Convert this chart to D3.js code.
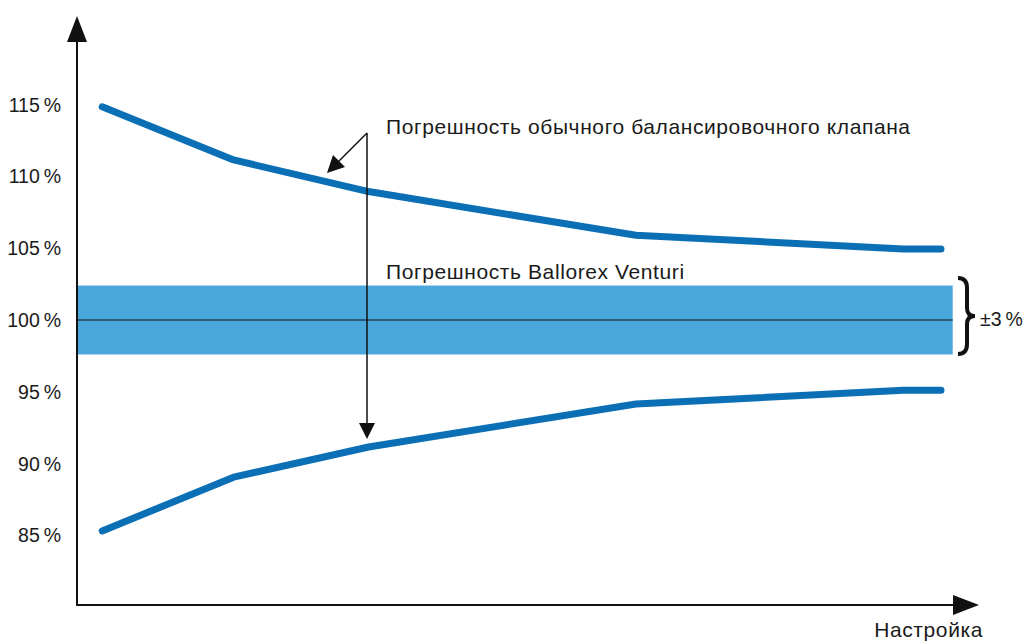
<!DOCTYPE html>
<html><head><meta charset="utf-8">
<script src="https://cdn.jsdelivr.net/npm/d3@7"></script>
<style>body{margin:0;background:#fff}svg{display:block}text{font-family:"Liberation Sans",Arial,sans-serif;fill:#1a1a1a}</style>
</head><body><svg id="c" width="1025" height="641"></svg>
<script>
// Data
const settings = [2.8, 17.4, 32.4, 62.1, 91.8, 96.0];
const upperError = [114.85, 111.15, 108.95, 105.9, 104.95, 104.95];
const lowerError = [85.3, 89.05, 91.15, 94.15, 95.1, 95.1];
const bandRange = [97.6, 102.4];
const yTicks = [85, 90, 95, 100, 105, 110, 115];
const yTickLabels = ["85\u2009%", "90\u2009%", "95\u2009%", "100\u2009%", "105\u2009%", "110\u2009%", "115\u2009%"];
const labelStandard = "Погрешность обычного балансировочного клапана";
const labelVenturi = "Погрешность Ballorex Venturi";
const labelBand = "±3\u2009%";
const xLabel = "Настройка";

const svg = d3.select("#c");
const x = d3.scaleLinear().domain([0, 100]).range([77, 977]);
const y = d3.scaleLinear().domain([100, 115]).range([320, 104.7]);
const blue = "#0b6fb6", band = "#4aa7dc";

// band
svg.append("rect").attr("x", x(0)).attr("width", x(97.3) - x(0))
  .attr("y", y(bandRange[1])).attr("height", y(bandRange[0]) - y(bandRange[1])).attr("fill", band);
svg.append("line").attr("x1", x(0)).attr("x2", x(97.3)).attr("y1", y(100)).attr("y2", y(100))
  .attr("stroke", "#111").attr("stroke-width", 1);

// lines
const line = d3.line().x(d => x(d[0])).y(d => y(d[1]));
[upperError, lowerError].forEach(s => {
  svg.append("path").attr("d", line(settings.map((v, i) => [v, s[i]])))
    .attr("fill", "none").attr("stroke", blue).attr("stroke-width", 7).attr("stroke-linecap", "round").attr("stroke-linejoin", "round");
});

// axes
const x0 = x(0), yb = 605;
svg.append("line").attr("x1", x0).attr("x2", x0).attr("y1", yb + 1).attr("y2", 38).attr("stroke", "#111").attr("stroke-width", 2);
svg.append("path").attr("d", `M${x0},16 L${x0-10},42 L${x0+10},42 Z`).attr("fill", "#111");
svg.append("line").attr("x1", x0 - 1).attr("x2", 958).attr("y1", yb).attr("y2", yb).attr("stroke", "#111").attr("stroke-width", 2);
svg.append("path").attr("d", `M979,${yb} L953,${yb-10} L953,${yb+10} Z`).attr("fill", "#111");

// y tick labels
svg.selectAll("text.yt").data(yTicks).join("text").attr("class", "yt")
  .attr("x", 61).attr("y", d => y(d) + 7).attr("text-anchor", "end")
  .attr("font-size", 19.5).text((d, i) => yTickLabels[i]);

// x label
svg.append("text").attr("x", 983).attr("y", 637).attr("text-anchor", "end").attr("font-size", 21)
  .attr("letter-spacing", 0.6).text(xLabel);

// annotations
const ax = 367, ay = 133;
svg.append("line").attr("x1", ax).attr("x2", ax).attr("y1", ay).attr("y2", 426).attr("stroke", "#111").attr("stroke-width", 1.5);
svg.append("path").attr("d", `M${ax},439 L${ax-8},423 L${ax+8},423 Z`).attr("fill", "#111");
svg.append("line").attr("x1", ax).attr("x2", 335).attr("y1", ay).attr("y2", 165).attr("stroke", "#111").attr("stroke-width", 1.5);
svg.append("path").attr("d", "M327,173 L333,155 L345,167 Z").attr("fill", "#111");
svg.append("text").attr("x", 386).attr("y", 134).attr("font-size", 21).attr("letter-spacing", 0.6).text(labelStandard);
svg.append("text").attr("x", 386).attr("y", 279).attr("font-size", 21).attr("letter-spacing", 0.6).text(labelVenturi);

// brace
const bx = 958, bt = 278, bbm = 354, bm = (bt + bbm) / 2;
svg.append("path").attr("d",
  `M${bx},${bt} Q${bx+9},${bt} ${bx+9},${bt+10} L${bx+9},${bm-8} Q${bx+9},${bm} ${bx+17},${bm} Q${bx+9},${bm} ${bx+9},${bm+8} L${bx+9},${bbm-10} Q${bx+9},${bbm} ${bx},${bbm}`)
  .attr("fill", "none").attr("stroke", "#111").attr("stroke-width", 4);
svg.append("text").attr("x", 980).attr("y", 326).attr("font-size", 19.5).text(labelBand);
</script></body></html>
